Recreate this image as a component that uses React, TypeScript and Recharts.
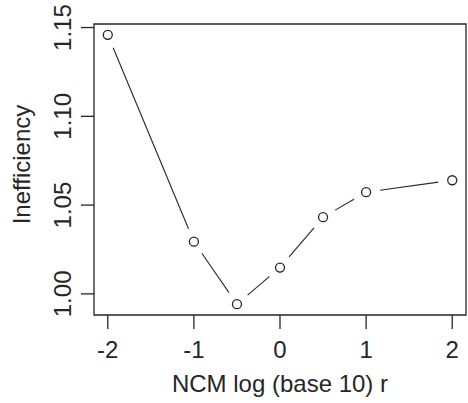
import React from 'react';
import { LineChart, Line, XAxis, YAxis, ReferenceArea } from 'recharts';

const logR = [-2, -1, -0.5, 0, 0.5, 1, 2];
const inefficiency = [1.1459, 1.0294, 0.9942, 1.0148, 1.0432, 1.0573, 1.064];
const xTicks = [-2, -1, 0, 1, 2];
const yTicks = [1.0, 1.05, 1.1, 1.15];
const xDomain: [number, number] = [-2.16, 2.16];
const yDomain: [number, number] = [0.9881, 1.152];

const data = logR.map((x, i) => ({ x, y: inefficiency[i] }));

const FONT = 'Liberation Sans, Arial, sans-serif';
const INK = '#262626';
const FS = 24;

const XTick = (props: any) => {
  const { x, y, payload } = props;
  return (
    <text x={x} y={y} dy={29} textAnchor="middle" fontFamily={FONT} fontSize={FS} fill={INK}>
      {String(payload.value)}
    </text>
  );
};

const YTick = (props: any) => {
  const { x, y, payload } = props;
  const bx = x - 10;
  return (
    <text
      x={bx}
      y={y}
      transform={`rotate(-90, ${bx}, ${y})`}
      textAnchor="middle"
      fontFamily={FONT}
      fontSize={FS}
      fill={INK}
    >
      {Number(payload.value).toFixed(2)}
    </text>
  );
};

const XTitle = (props: any) => {
  const { viewBox } = props;
  const cx = viewBox.x + viewBox.width / 2;
  const by = viewBox.y + viewBox.height - 11;
  return (
    <text x={cx} y={by} textAnchor="middle" fontFamily={FONT} fontSize={FS} fill={INK}>
      NCM log (base 10) r
    </text>
  );
};

const YTitle = (props: any) => {
  const { viewBox } = props;
  const bx = viewBox.x + 30;
  const cy = viewBox.y + viewBox.height / 2 - 5;
  return (
    <text
      x={bx}
      y={cy}
      transform={`rotate(-90, ${bx}, ${cy})`}
      textAnchor="middle"
      fontFamily={FONT}
      fontSize={FS}
      fill={INK}
    >
      Inefficiency
    </text>
  );
};

const GapDot = (props: any) => {
  const { cx, cy, index, points } = props;
  const next = points && points[index + 1];
  let seg = null;
  if (next) {
    const dx = next.x - cx;
    const dy = next.y - cy;
    const d = Math.hypot(dx, dy);
    const g = 14;
    if (d > 2 * g) {
      seg = (
        <line
          x1={cx + (dx * g) / d}
          y1={cy + (dy * g) / d}
          x2={next.x - (dx * g) / d}
          y2={next.y - (dy * g) / d}
          stroke={INK}
          strokeWidth={1.1}
        />
      );
    }
  }
  return (
    <g key={`dot-${index}`}>
      {seg}
      <circle cx={cx} cy={cy} r={4.5} fill="none" stroke={INK} strokeWidth={1.3} />
    </g>
  );
};

export default function App() {
  return (
    <div style={{ position: 'absolute', left: 0, top: 0, width: 468, height: 403, background: '#fff' }}>
      <LineChart width={468} height={403} data={data} margin={{ top: 24, right: 2, left: 0, bottom: 0 }}>
        <XAxis
          type="number"
          dataKey="x"
          domain={xDomain}
          ticks={xTicks}
          allowDataOverflow
          axisLine={false}
          tickSize={14}
          tickMargin={0}
          tickLine={{ stroke: INK, strokeWidth: 1.3 }}
          tick={<XTick />}
          height={88}
          label={<XTitle />}
        />
        <YAxis
          type="number"
          dataKey="y"
          domain={yDomain}
          ticks={yTicks}
          allowDataOverflow
          axisLine={false}
          tickSize={13}
          tickMargin={0}
          tickLine={{ stroke: INK, strokeWidth: 1.3 }}
          tick={<YTick />}
          width={94}
          label={<YTitle />}
        />
        <ReferenceArea
          x1={xDomain[0]}
          x2={xDomain[1]}
          y1={yDomain[0]}
          y2={yDomain[1]}
          fill="none"
          stroke={INK}
          strokeWidth={1.3}
          fillOpacity={0}
        />
        <Line
          type="linear"
          dataKey="y"
          stroke="none"
          dot={<GapDot />}
          activeDot={false}
          isAnimationActive={false}
        />
      </LineChart>
    </div>
  );
}
